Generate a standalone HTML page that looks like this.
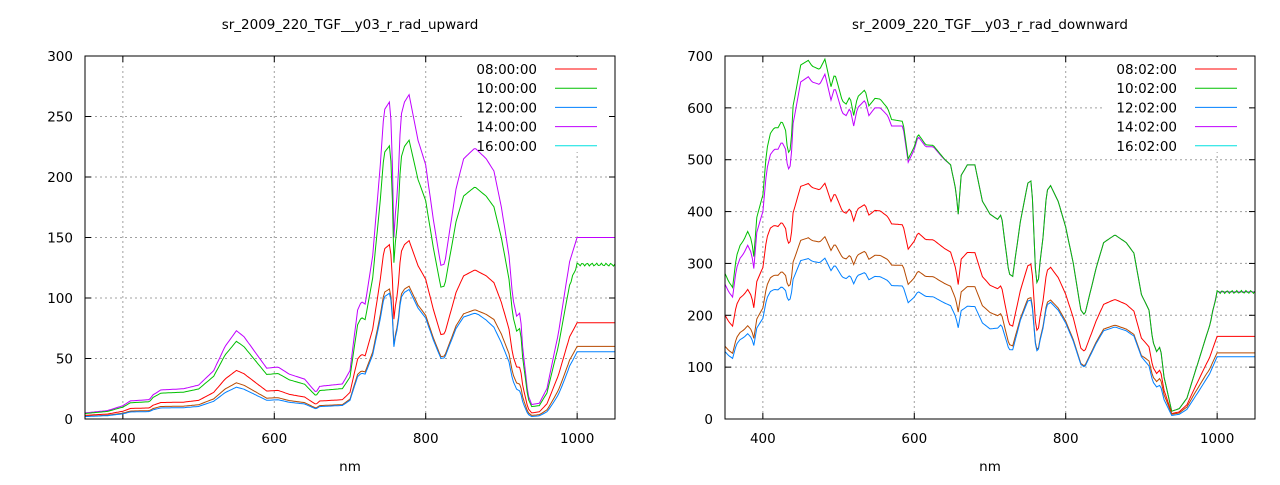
<!DOCTYPE html>
<html><head><meta charset="utf-8"><style>
body{margin:0;background:#fff;width:1280px;height:480px;overflow:hidden}
svg text{font-family:"DejaVu Sans","Liberation Sans",sans-serif;font-size:13.5px;fill:#000}
</style></head><body>
<svg id="s" width="1280" height="480" xmlns="http://www.w3.org/2000/svg"></svg>
<script>
const S=document.getElementById('s');let h='';
function interp(pts,x){if(x<=pts[0][0])return pts[0][1];for(let i=1;i<pts.length;i++){if(x<=pts[i][0]){const a=pts[i-1],b=pts[i];return a[1]+(b[1]-a[1])*(x-a[0])/(b[0]-a[0]);}}return pts[pts.length-1][1];}
function plot(X0,X1,Y0,Y1,ymax,ystep,title,labels,base,ratios){
 const px=n=>X0+(n-350)/700*(X1-X0), py=v=>Y1-v/ymax*(Y1-Y0);
 h+=`<text x="${(X0+X1)/2}" y="29" text-anchor="middle">${title}</text>`;
 h+=`<text x="${(X0+X1)/2}" y="471" text-anchor="middle">nm</text>`;
 for(let v=0;v<=ymax;v+=ystep){const y=py(v);
  if(v>0&&v<ymax)h+=`<line x1="${X0}" x2="${X1}" y1="${y}" y2="${y}" stroke="#a0a0a0" stroke-dasharray="2,3"/>`;
  h+=`<line x1="${X0}" x2="${X0+6}" y1="${y}" y2="${y}" stroke="#000"/><line x1="${X1-6}" x2="${X1}" y1="${y}" y2="${y}" stroke="#000"/>`;
  h+=`<text x="${X0-12}" y="${y+5}" text-anchor="end">${v}</text>`;}
 for(let n=400;n<=1000;n+=200){const x=px(n);
  h+=`<line x1="${x}" x2="${x}" y1="${Y0}" y2="${Y1}" stroke="#a0a0a0" stroke-dasharray="2,3"/>`;
  h+=`<line x1="${x}" x2="${x}" y1="${Y1}" y2="${Y1-6}" stroke="#000"/><line x1="${x}" x2="${x}" y1="${Y0}" y2="${Y0+6}" stroke="#000"/>`;
  h+=`<text x="${x}" y="${Y1+24}" text-anchor="middle">${n}</text>`;}
 h+=`<rect x="${X1-151}" y="${Y0+1}" width="145" height="95" fill="#fff"/>`;
 const cols=['#ff0000','#00c000','#0080ff','#c000ff','#b84a00'];
 const order=[3,1,0,4,2];
 for(const k of order){let d='';
  for(let n=350;n<=1050;n+=2){const v=interp(base,n)*interp(ratios[k],n)+(k==1&&n>990?Math.sin(n)*1.2*ymax/300:0);
   d+=(d?'L':'M')+px(n).toFixed(1)+','+Math.max(Y0,py(v)).toFixed(1);}
  h+=`<path d="${d}" fill="none" stroke="${cols[k]}" stroke-width="1"/>`;}
 const lc=['#ff0000','#00c000','#0080ff','#c000ff','#00e0e0'];
 labels.forEach((l,i)=>{const y=Y0+13+i*19.2;
  h+=`<text x="${X1-78}" y="${y+5}" text-anchor="end">${l}</text><line x1="${X1-60}" x2="${X1-18}" y1="${y}" y2="${y}" stroke="${lc[i]}"/>`;});
 h+=`<rect x="${X0}" y="${Y0}" width="${X1-X0}" height="${Y1-Y0}" fill="none" stroke="#000"/>`;
}
const bL=[[350,5],[380,7],[400,11],[410,15],[435,16],[440,20],[450,24],[480,25],[500,28],[520,40],[535,60],[550,73],[560,68],[575,55],[590,42],[605,43],[620,37],[640,33],[655,22],[660,27],[690,29],[700,40],[710,90],[715,97],[720,95],[730,135],[740,210],[745,255],[752,262],[755,240],[758,150],[760,170],[763,190],[767,250],[772,262],[778,268],[790,230],[800,210],[810,165],[820,127],[825,128],[840,190],[850,215],[865,224],[880,215],[890,205],[900,175],[910,135],[915,100],[920,85],[925,88],[928,60],[935,20],[940,12],[950,13],[960,25],[975,70],[990,130],[1000,150],[1050,150]];
const rL=[[[350,.6],[500,.55],[910,.55],[940,.42],[960,.5],[1000,.53]],[[350,.9],[550,.88],[770,.86],[1050,.85]],[[350,.4],[550,.36],[770,.4],[870,.39],[910,.35],[940,.17],[1000,.37]],[[350,1]],[[350,.45],[550,.41],[770,.41],[910,.4],[940,.25],[1000,.4]]];
plot(85,615,56,419,300,50,'sr_2009_220_TGF__y03_r_rad_upward',['08:00:00','10:00:00','12:00:00','14:00:00','16:00:00'],bL,rL);
const bR=[[350,260],[355,245],[360,235],[365,290],[370,310],[375,320],[380,335],[385,320],[388,290],[392,360],[400,400],[405,480],[410,510],[415,520],[420,520],[425,535],[430,520],[433,480],[437,490],[440,570],[450,650],[460,660],[465,650],[475,645],[482,665],[490,615],[495,640],[505,590],[510,585],[515,600],[520,565],[525,600],[535,615],[540,585],[548,600],[555,600],[565,585],[570,565],[585,565],[592,495],[600,520],[605,545],[615,525],[625,525],[640,500],[648,490],[655,440],[658,395],[662,470],[670,490],[680,490],[690,420],[700,395],[710,385],[715,395],[725,280],[730,275],[740,380],[750,455],[755,460],[760,290],[763,250],[765,290],[770,350],[775,440],[780,450],[790,420],[800,370],[810,300],[820,210],[825,200],[840,290],[850,340],[865,355],[880,340],[890,320],[900,240],[910,210],[915,150],[920,130],[925,140],[930,80],[940,15],[950,20],[960,40],[975,110],[990,180],[1000,245],[1050,245]];
const rR=[[[350,.77],[450,.69],[600,.66],[750,.65],[900,.65],[940,.7],[1000,.65]],[[350,1.08],[420,1.08],[450,1.05],[550,1.03],[600,1.01],[650,1]],[[350,.5],[450,.47],[700,.44],[740,.5],[900,.5],[940,.45],[1000,.49]],[[350,1]],[[350,.54],[450,.53],[700,.52],[740,.51],[900,.51],[940,.6],[1000,.52]]];
plot(725,1255,56,419,700,100,'sr_2009_220_TGF__y03_r_rad_downward',['08:02:00','10:02:00','12:02:00','14:02:00','16:02:00'],bR,rR);
S.innerHTML=h;
</script>
</body></html>
